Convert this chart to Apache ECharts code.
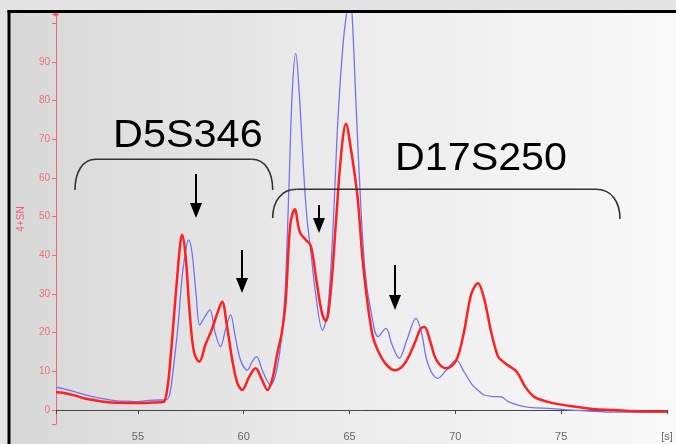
<!DOCTYPE html>
<html>
<head>
<meta charset="utf-8">
<script src="https://cdn.jsdelivr.net/npm/echarts@6/dist/echarts.min.js"></script>
<style>
html,body{margin:0;padding:0;background:#e4e4e4;}
#chart{width:676px;height:444px;}
</style>
</head>
<body>
<div id="chart"></div>
<script>
// ---- data (time in s, signal) ----
var timeBlue = [51.13,51.5,52.0,52.5,53.0,53.5,54.0,54.5,55.0,55.5,56.0,56.3,56.5,56.7,56.9,57.1,57.3,57.4,57.55,57.75,57.92,58.15,58.4,58.65,58.9,59.15,59.38,59.6,59.85,60.17,60.4,60.6,60.9,61.27,61.5,61.75,61.95,62.15,62.3,62.46,62.6,62.85,63.0,63.17,63.4,63.72,63.95,64.2,64.45,64.7,64.9,65.0,65.1,65.3,65.54,65.75,66.0,66.35,66.72,67.0,67.35,67.7,68.14,68.4,68.7,69.17,69.6,70.04,70.4,70.8,71.1,71.37,71.8,72.17,72.5,72.96,73.5,74.55,75.5,76.5,77.5,78.5,80.0];
var signalBlue = [5.9,5.5,4.8,4.0,3.3,2.8,2.4,2.3,2.2,2.5,2.6,2.6,4,12,22,35,42.5,44,41,30,22,24,25.9,20,16.4,21,24.6,19,12.9,10.3,12.5,13.8,10,6.5,9,17,30,60,83,92.2,84,60,49,41,30,20.7,25,45,75,95,104,106,104,80,51.7,35,25.9,19,21.1,17,13.4,18,23.7,20,12,8.2,10.5,12.9,10,6.5,5,3.9,3.5,3.4,2.2,1.3,0.7,0.4,0,-0.3,-0.5,-0.5,-0.5];
var timeRed = [51.13,51.5,52.0,52.5,53.0,53.5,54.0,55.0,55.5,56.0,56.22,56.4,56.55,56.69,56.85,57.0,57.09,57.25,57.45,57.65,57.9,58.2,58.51,58.75,58.98,59.2,59.46,59.7,59.93,60.25,60.56,60.85,61.12,61.35,61.6,61.8,61.98,62.2,62.41,62.65,62.93,63.17,63.45,63.7,63.88,64.1,64.35,64.6,64.83,65.05,65.38,65.6,65.85,66.1,66.33,66.7,67.12,67.6,68.07,68.35,68.54,68.8,69.1,69.57,70.04,70.4,70.75,71.07,71.35,71.7,72.0,72.17,72.5,72.9,73.3,73.7,74.07,74.6,75.6,76.5,77.5,78.5,80.0];
var signalRed = [4.6,4.4,3.8,3.0,2.5,2.1,1.9,1.8,1.9,2.0,2.1,6,14,23.3,34,43,45.3,40,25,15,12.5,17,21.1,25,28,22,12.9,7,5.2,8.5,10.8,8,5.2,8,15,20,28,48,51.9,46,44,42.5,33,25,23,30,48,66,74,68,55,40,27.6,19,15.5,12,10.3,12,17.2,21,21.5,18,13,10.8,12.9,20,30,32.8,29,20,14,12.9,11.5,9.9,6,3.5,2.6,1.8,0.9,0.3,0,-0.3,-0.4];
var markerLabels = ['D5S346', 'D17S250'];
var yAxisName = '4+SN';
var xUnitLabel = '[s]';

function pairs(xs, ys) {
  var out = [];
  for (var i = 0; i < xs.length; i++) out.push([xs[i], ys[i]]);
  return out;
}

var chart = echarts.init(document.getElementById('chart'), null, {renderer: 'canvas'});

var annoStroke = {stroke: '#333', lineWidth: 1.6, fill: null};

function arrow(x, top, tip) {
  return [
    {type: 'line', z: 100, shape: {x1: x, y1: top, x2: x, y2: tip - 10}, style: {stroke: '#000', lineWidth: 2}},
    {type: 'polygon', z: 100, shape: {points: [[x - 6, tip - 15], [x + 6, tip - 15], [x, tip]]}, style: {fill: '#000'}}
  ];
}

function bracket(xl, yl, xr, yr, yh, rx) {
  return [
    {type: 'bezierCurve', z: 100, shape: {x1: xl, y1: yl, x2: xl + rx, y2: yh, cpx1: xl, cpy1: yh + (yl - yh) * 0.42, cpx2: xl + rx * 0.35, cpy2: yh}, style: annoStroke},
    {type: 'line', z: 100, shape: {x1: xl + rx, y1: yh, x2: xr - rx, y2: yh}, style: annoStroke},
    {type: 'bezierCurve', z: 100, shape: {x1: xr - rx, y1: yh, x2: xr, y2: yr, cpx1: xr - rx * 0.35, cpy1: yh, cpx2: xr, cpy2: yh + (yr - yh) * 0.42}, style: annoStroke}
  ];
}

var graphics = [
  {type: 'rect', z: -10, shape: {x: 10, y: 12, width: 666, height: 432},
   style: {fill: new echarts.graphic.LinearGradient(0, 0, 1, 0, [
     {offset: 0, color: '#d8d8d8'}, {offset: 0.5, color: '#ececec'}, {offset: 1, color: '#f9f9f9'}])}},
  {type: 'rect', z: 100, shape: {x: 7.5, y: 10, width: 669, height: 3}, style: {fill: '#000'}},
  {type: 'rect', z: 100, shape: {x: 7.5, y: 10, width: 3, height: 434}, style: {fill: '#000'}},
  {type: 'text', z: 100, x: 113, y: 136.5, scaleX: 1.09,
   style: {text: markerLabels[0], x: 0, y: 0, align: 'left', verticalAlign: 'middle', font: '38px "Liberation Sans"', fill: '#000'}},
  {type: 'text', z: 100, x: 395, y: 160, scaleX: 1.085,
   style: {text: markerLabels[1], x: 0, y: 0, align: 'left', verticalAlign: 'middle', font: '38px "Liberation Sans"', fill: '#000'}}
].concat(
  bracket(75, 190, 272.7, 190, 159.3, 21),
  bracket(272.7, 218, 620, 219, 189.3, 24),
  arrow(196, 174, 218), arrow(242, 250, 293), arrow(319, 205, 233), arrow(395, 265, 310)
);

chart.setOption({
  animation: false,
  backgroundColor: '#e4e4e4',
  grid: {left: 56, right: 9, top: 14, bottom: 20, containLabel: false},
  xAxis: {
    type: 'value', min: 51.13, max: 80,
    axisLine: {lineStyle: {color: '#444', width: 1}},
    axisTick: {length: 4, lineStyle: {color: '#444'}},
    splitLine: {show: false},
    axisLabel: {
      color: '#666', fontSize: 11, fontFamily: 'Liberation Sans', margin: 7,
      formatter: function (v) {
        if (Math.abs(v - 80) < 1e-6) return xUnitLabel;
        return (Math.abs(v % 5) < 1e-6) ? String(v) : '';
      }
    }
  },
  yAxis: {
    type: 'value', min: -3.6, max: 102.4, splitNumber: 10,
    name: yAxisName, nameLocation: 'middle', nameRotate: 90, nameGap: 30,
    nameTextStyle: {color: '#e8606f', fontSize: 10, fontFamily: 'Liberation Sans'},
    axisLine: {show: true, symbol: ['none', 'circle'], symbolSize: [5, 5], lineStyle: {color: '#ee6677', width: 1}},
    axisTick: {show: true, length: 4, lineStyle: {color: '#ee6677'}},
    splitLine: {show: false},
    axisLabel: {
      color: '#e8707a', fontSize: 10, fontFamily: 'Liberation Sans', margin: 6,
      formatter: function (v) {
        return (Math.abs(v % 10) < 1e-6 && v <= 90 && v >= 0) ? String(v) : '';
      }
    }
  },
  series: [
    {type: 'line', data: pairs(timeBlue, signalBlue), showSymbol: false, smooth: 0.35, z: 3,
     lineStyle: {color: '#7373f2', width: 1.3}},
    {type: 'line', data: pairs(timeRed, signalRed), showSymbol: false, smooth: 0.35, z: 4,
     lineStyle: {color: '#ff2020', width: 2.5}}
  ],
  graphic: graphics
});
</script>
</body>
</html>
